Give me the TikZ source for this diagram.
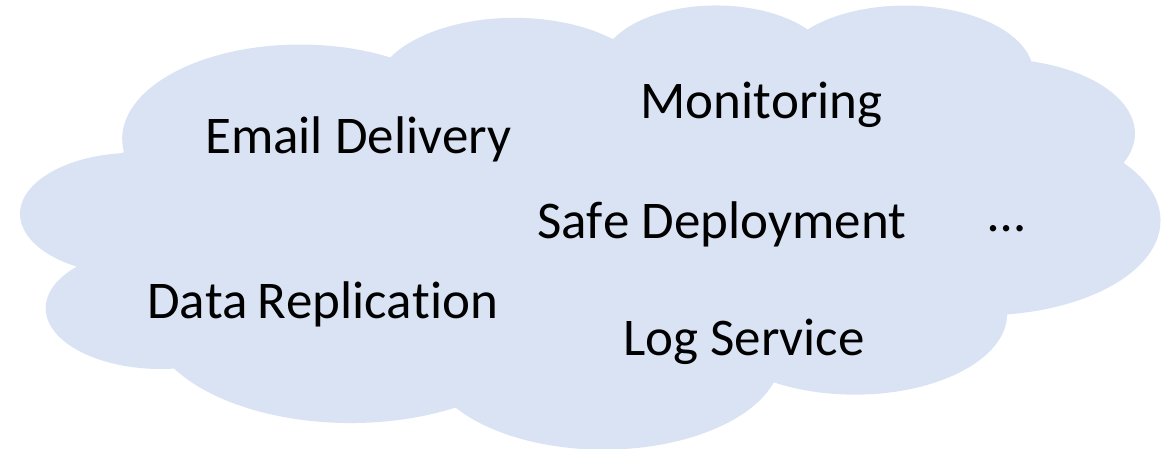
\documentclass[tikz,border=0pt]{standalone}
\usepackage{fontspec}
\setmainfont[Kerning=Off,Ligatures={NoCommon}]{Carlito}
\definecolor{cloudblue}{RGB}{218,227,243}

% Convert an elliptical arc given by a visual start angle and sweep
% into parametric start/end angles, stored as \cloudS<name>, \cloudE<name>.
\newcommand\cloudang[5]{%
  \pgfmathsetmacro\cldS{atan2((#2)*sin(#4),(#3)*cos(#4))}%
  \pgfmathsetmacro\cldE{atan2((#2)*sin(#4+#5),(#3)*cos(#4+#5))}%
  \pgfmathsetmacro\cldE{(\cldS)+mod((\cldE)-(\cldS)+720,360)}%
  \expandafter\let\csname cloudS#1\endcsname\cldS
  \expandafter\let\csname cloudE#1\endcsname\cldE}

\begin{document}
\begin{tikzpicture}[x=1pt,y=-1pt,
  label/.style={inner sep=0pt, anchor=base west, font=\fontsize{53}{60}\selectfont}]
\useasboundingbox (0,0) rectangle (1174,448);

% lobes of the cloud: radii, start angle, sweep (degrees)
\cloudang{A}{67.53}{91.90}{-190.48749}{123.78053}
\cloudang{B}{53.33}{72.67}{-144.10238}{89.94523}
\cloudang{C}{43.65}{59.45}{-145.80792}{99.72302}
\cloudang{D}{48.57}{65.95}{-130.98607}{117.24173}
\cloudang{E}{53.33}{72.73}{-78.70888}{109.02692}
\cloudang{F}{67.75}{92.20}{-46.26725}{130.26900}
\cloudang{G}{57.85}{78.67}{0.62502}{114.03333}
\cloudang{H}{67.52}{92.15}{22.45160}{115.17255}
\cloudang{I}{77.20}{105.43}{66.24263}{75.71102}
\cloudang{J}{43.60}{59.18}{-274.94208}{146.73557}
\cloudang{K}{43.45}{59.45}{-246.82850}{152.51885}

\begin{scope}[shift={(21,4)}, x=2.6366pt, y=-1.0278pt]
\fill[cloudblue] (39,143.70)
  arc[x radius=67.53, y radius=91.90,  start angle=\cloudSA, end angle=\cloudEA]
  arc[x radius=53.33, y radius=72.67,  start angle=\cloudSB, end angle=\cloudEB]
  arc[x radius=43.65, y radius=59.45,  start angle=\cloudSC, end angle=\cloudEC]
  arc[x radius=48.57, y radius=65.95,  start angle=\cloudSD, end angle=\cloudED]
  arc[x radius=53.33, y radius=72.73,  start angle=\cloudSE, end angle=\cloudEE]
  arc[x radius=67.75, y radius=92.20,  start angle=\cloudSF, end angle=\cloudEF]
  arc[x radius=57.85, y radius=78.67,  start angle=\cloudSG, end angle=\cloudEG]
  arc[x radius=67.52, y radius=92.15,  start angle=\cloudSH, end angle=\cloudEH]
  arc[x radius=77.20, y radius=105.43, start angle=\cloudSI, end angle=\cloudEI]
  arc[x radius=43.60, y radius=59.18,  start angle=\cloudSJ, end angle=\cloudEJ]
  arc[x radius=43.45, y radius=59.45,  start angle=\cloudSK, end angle=\cloudEK]
  -- cycle;
\end{scope}

\node[label] (email) at (205,153) {Email Delivery};
\node[label] (mon)   at (640,118) {Monitoring};
\node[label] (safe)  at (537,238) {Safe Deployment};
\node[label] (more)  at (988,231) {…};
\node[label] (data)  at (147,318) {Data\hspace{-3pt} Replication};
\node[label] (log)   at (623,355) {Log Service};
\end{tikzpicture}
\end{document}
